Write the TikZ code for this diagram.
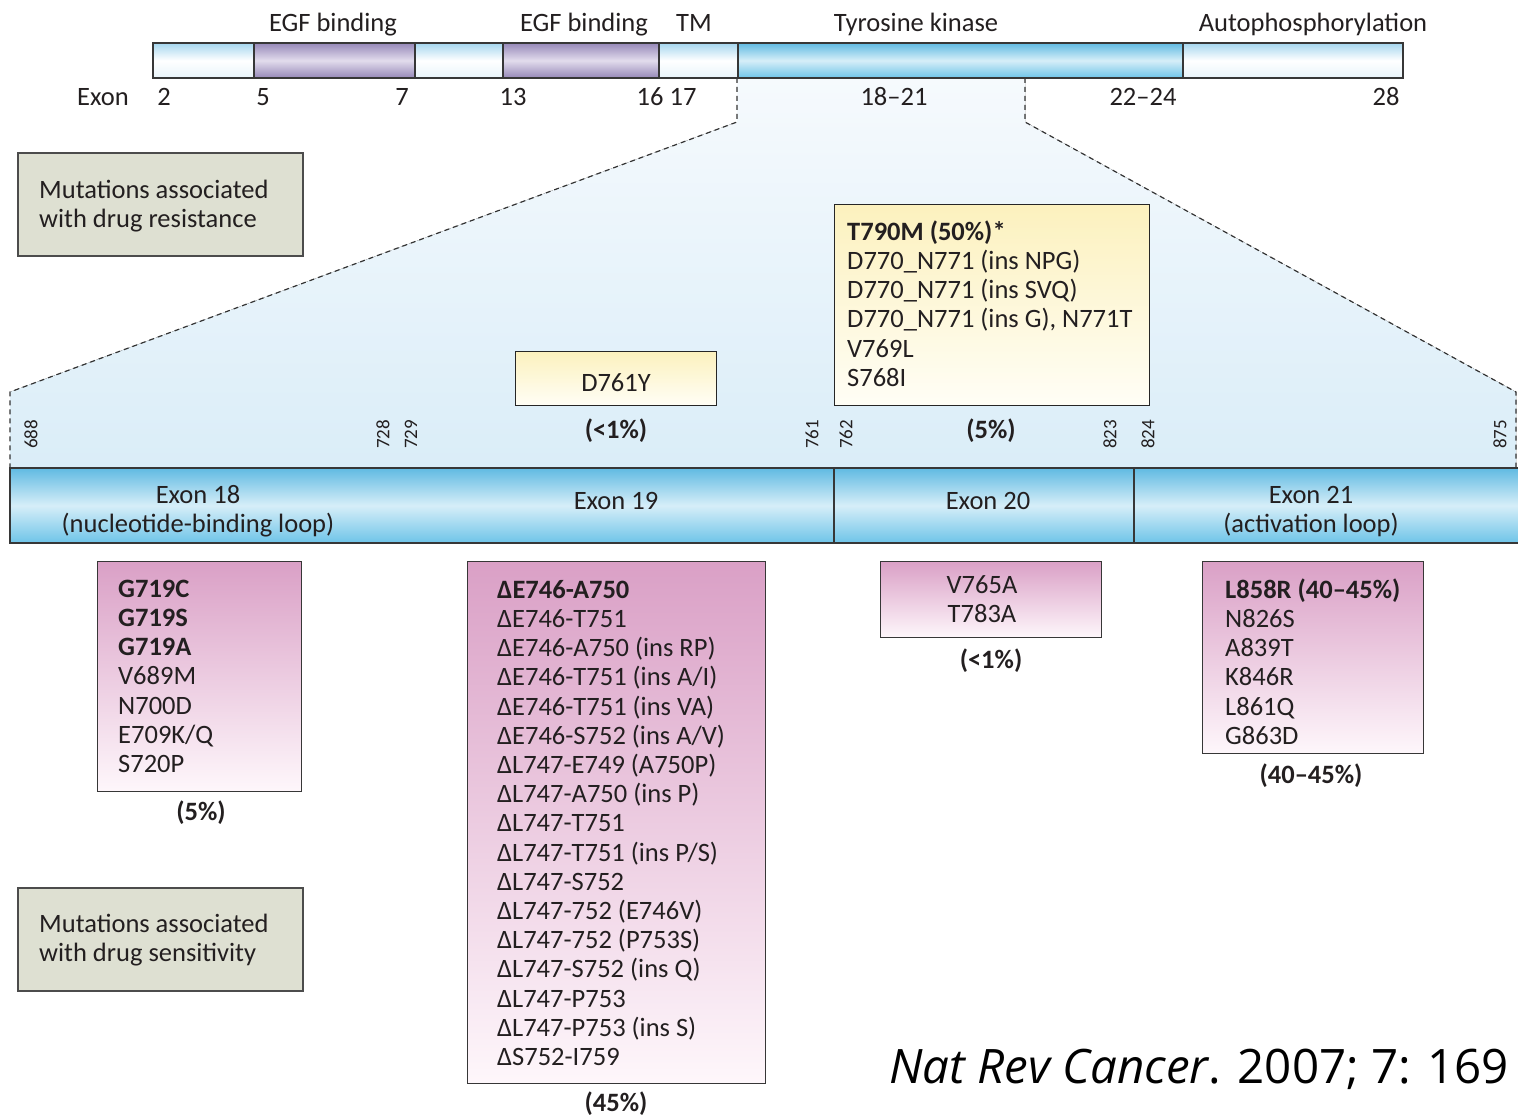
\documentclass[tikz,border=0pt]{standalone}
\usepackage{fontspec}
\setmainfont{Carlito}
\newfontfamily\citefont{Open Sans}
\usetikzlibrary{positioning}

\definecolor{txt}{RGB}{35,31,32}
\definecolor{edge}{RGB}{55,55,55}
\definecolor{lbtop}{RGB}{165,214,238}
\definecolor{lbbot}{RGB}{232,244,250}
\definecolor{egftop}{RGB}{150,136,184}
\definecolor{egfmid}{RGB}{226,220,237}
\definecolor{kintop}{RGB}{96,186,226}
\definecolor{kinmid}{RGB}{214,238,248}
\definecolor{kinbot}{RGB}{110,196,232}
\definecolor{zoomtop}{RGB}{246,250,253}
\definecolor{zoombot}{RGB}{218,237,248}
\definecolor{ylwtop}{RGB}{252,241,190}
\definecolor{ylwbot}{RGB}{255,254,246}
\definecolor{pnktop}{RGB}{218,160,198}
\definecolor{pnkbot}{RGB}{254,247,251}
\definecolor{keyfill}{RGB}{222,224,210}

\begin{document}
\begin{tikzpicture}[x=1pt,y=-1pt,
  seg/.style={draw=edge, line width=1.4pt},
  lite/.style={seg, top color=lbtop, bottom color=lbbot, middle color=white},
  egf/.style={seg, top color=egftop, bottom color=egftop, middle color=egfmid},
  kin/.style={seg, top color=kintop, bottom color=kinbot, middle color=kinmid},
  lbl/.style={text=txt, inner sep=0pt, font=\fontsize{26.5}{29.2}\selectfont},
  pct/.style={lbl, anchor=base, font=\fontsize{26.5}{29.2}\selectfont\bfseries},
  list/.style={lbl, align=left, anchor=north west},
  num/.style={text=txt, inner sep=0pt, rotate=90, anchor=west,
    font=\fontsize{19}{21}\selectfont},
  ylwbox/.style={draw=black!85, line width=1.3pt, top color=ylwtop,
    bottom color=ylwbot, anchor=north west, inner sep=0pt},
  pnkbox/.style={draw=edge, line width=1.3pt, top color=pnktop,
    bottom color=pnkbot, anchor=north west, inner sep=0pt},
  keybox/.style={draw=black!70, line width=2.2pt, fill=keyfill,
    anchor=north west, inner sep=0pt},
  zoomdash/.style={draw=black!80, line width=1.2pt, dash pattern=on 5pt off 4pt}]

\newcommand\TOP{43}
\newcommand\BOT{78}
\newcommand\LTOP{468}
\newcommand\LBOT{543}

  \useasboundingbox (0,0) rectangle (1518,1115);

  %% zoomed region
  \coordinate (kinL) at (737,\BOT);
  \coordinate (kneeL) at (737,122);
  \coordinate (cornL) at (10,392);
  \coordinate (barNW) at (10,\LTOP);
  \coordinate (kinR) at (1025,\BOT);
  \coordinate (kneeR) at (1025,122);
  \coordinate (cornR) at (1516,392);
  \coordinate (barNE) at (1516,\LTOP);
  \fill[top color=zoomtop, bottom color=zoombot]
  (kinL) -- (kneeL) -- (cornL) -- (barNW) -- (barNE) -- (cornR) -- (kneeR)
  -- (kinR) -- cycle;
  \draw[zoomdash] (kinL) -- (kneeL) -- (cornL) -- (barNW);
  \draw[zoomdash] (kinR) -- (kneeR) -- (cornR) -- (barNE);

  %% protein bar
  \draw[lite] (153,\TOP) rectangle (254,\BOT);
  \draw[egf] (254,\TOP) rectangle (415,\BOT);
  \draw[lite] (415,\TOP) rectangle (503,\BOT);
  \draw[egf] (503,\TOP) rectangle (659,\BOT);
  \draw[lite] (659,\TOP) rectangle (738,\BOT);
  \draw[kin] (738,\TOP) rectangle (1183,\BOT);
  \draw[lite] (1183,\TOP) rectangle (1403,\BOT);

  \node[lbl, anchor=base] (egfA) at (333,32) {EGF binding};
  \node[lbl, anchor=base] (egfB) at (584,32) {EGF binding};
  \node[lbl, anchor=base] (tm) at (694,32) {TM};
  \node[lbl, anchor=base] (tk) at (916,32) {Tyrosine kinase};
  \node[lbl, anchor=base] (auto) at (1313,32) {Autophosphorylation};

  \node[lbl, anchor=base] (exon) at (103,106) {Exon};
  \node[lbl, anchor=base] (e2) at (164,106) {2};
  \node[lbl, anchor=base] (e5) at (263,106) {5};
  \node[lbl, anchor=base] (e7) at (402,106) {7};
  \node[lbl, anchor=base] (e13) at (513,106) {13};
  \node[lbl, anchor=base] (e16) at (650,106) {16};
  \node[lbl, anchor=base] (e17) at (683,106) {17};
  \node[lbl, anchor=base] (e1821) at (894,106) {18--21};
  \node[lbl, anchor=base] (e2224) at (1143,106) {22--24};
  \node[lbl, anchor=base] (e28) at (1386,106) {28};

  %% kinase domain bar
  \draw[kin] (10,\LTOP) rectangle (834,\LBOT);
  \draw[kin] (834,\LTOP) rectangle (1134,\LBOT);
  \draw[kin] (1134,\LTOP) rectangle (1530,\LBOT);

  \node[lbl, align=center, anchor=north] (ex18) at (198,482.6)
  {\strut Exon 18\\(nucleotide-binding loop)};
  \node[lbl, anchor=base] (ex19) at (616,509) {Exon 19};
  \node[lbl, anchor=base] (ex20) at (988,509) {Exon 20};
  \node[lbl, align=center, anchor=north] (ex21) at (1311,482.6)
  {\strut Exon 21\\(activation loop)};

  %% residues
  \node[num] (r688) at (31,449) {688};
  \node[num] (r728) at (383,449) {728};
  \node[num] (r729) at (411,449) {729};
  \node[num] (r761) at (812,449) {761};
  \node[num] (r762) at (846,449) {762};
  \node[num] (r823) at (1110,449) {823};
  \node[num] (r824) at (1148,449) {824};
  \node[num] (r875) at (1500,449) {875};

  %% key
  \node[keybox, minimum width=285pt, minimum height=103pt] (resKey) at (17,152) {};
  \node[list] (resTxt) at (39,177.6)
  {\strut Mutations associated\\with drug resistance};
  \node[keybox, minimum width=285pt, minimum height=103pt] (sensKey) at (17,887) {};
  \node[list] (sensTxt) at (39,911.6)
  {\strut Mutations associated\\with drug sensitivity};

  %% resistance
  \node[ylwbox, minimum width=201pt, minimum height=54pt] (d761Box) at (515,351) {};
  \node[lbl, anchor=base] (d761Txt) at (616,391) {D761Y};
  \node[pct] (d761Pct) at (616,438) {(<1\%)};

  \node[ylwbox, minimum width=315pt, minimum height=201pt] (t790Box) at (834,204) {};
  \node[list] (t790Txt) at (847,219.6)
  {\strut\textbf{T790M (50\%)*}\\D770\_N771 (ins NPG)\\D770\_N771 (ins SVQ)\\
   D770\_N771 (ins G), N771T\\V769L\\S768I};
  \node[pct] (t790Pct) at (991,438) {(5\%)};

  %% sensitivity
  \node[pnkbox, minimum width=204pt, minimum height=230pt] (g719Box) at (97,561) {};
  \node[list] (g719Txt) at (118,576.6)
  {\strut\textbf{G719C}\\\textbf{G719S}\\\textbf{G719A}\\V689M\\N700D\\E709K/Q\\S720P};
  \node[pct] (g719Pct) at (201,820) {(5\%)};

  \node[pnkbox, minimum width=298pt, minimum height=522pt] (delBox) at (467,561) {};
  \node[list] (delTxt) at (497,577.6)
  {\strut\textbf{ΔE746-A750}\\ΔE746-T751\\ΔE746-A750 (ins RP)\\ΔE746-T751 (ins A/I)\\
   ΔE746-T751 (ins VA)\\ΔE746-S752 (ins A/V)\\ΔL747-E749 (A750P)\\ΔL747-A750 (ins P)\\
   ΔL747-T751\\ΔL747-T751 (ins P/S)\\ΔL747-S752\\ΔL747-752 (E746V)\\ΔL747-752 (P753S)\\
   ΔL747-S752 (ins Q)\\ΔL747-P753\\ΔL747-P753 (ins S)\\ΔS752-I759};
  \node[pct] (delPct) at (616,1111) {(45\%)};

  \node[pnkbox, minimum width=221pt, minimum height=76pt] (v765Box) at (880,561) {};
  \node[lbl, align=center, anchor=north] (v765Txt) at (982,572.6)
  {\strut V765A\\T783A};
  \node[pct] (v765Pct) at (991,668) {(<1\%)};

  \node[pnkbox, minimum width=221pt, minimum height=192pt] (l858Box) at (1202,561) {};
  \node[list] (l858Txt) at (1225,577.6)
  {\strut\textbf{L858R (40--45\%)}\\N826S\\A839T\\K846R\\L861Q\\G863D};
  \node[pct] (l858Pct) at (1311,783) {(40--45\%)};

  %% source
  \node[anchor=base west, inner sep=0pt, text=black,
  font=\citefont\fontsize{47.5}{51}\selectfont] (cite) at (889,1083)
  {\textit{Nat Rev Cancer}. 2007; 7: 169};

\end{tikzpicture}
\end{document}
